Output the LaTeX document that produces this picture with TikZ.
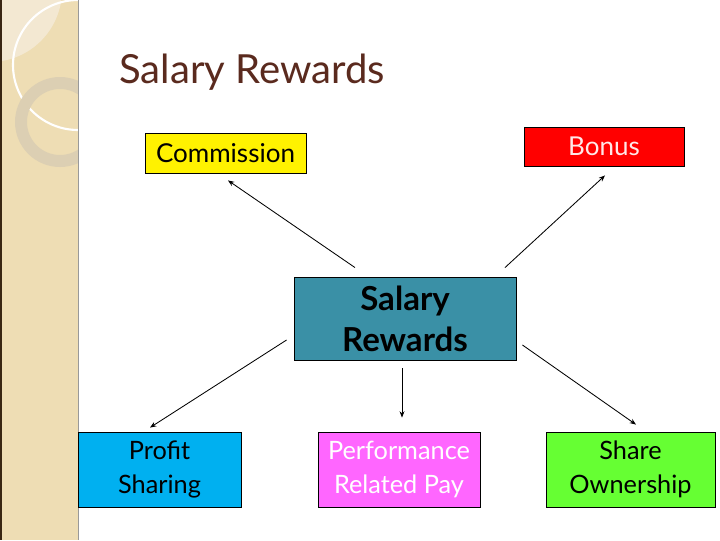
\documentclass[tikz,border=0pt]{standalone}
\usepackage{fontspec}
\setmainfont{Lato}
\usetikzlibrary{arrows.meta}
\definecolor{strip}{HTML}{EEDDB4}
\definecolor{stripl}{HTML}{F3E8D2}
\definecolor{ringc}{HTML}{DCCFB3}
\definecolor{titlec}{HTML}{5A2A1E}
\definecolor{tealc}{HTML}{3A90A6}
\definecolor{cyanc}{HTML}{00B0F0}
\definecolor{magc}{HTML}{FF66FF}
\definecolor{greenc}{HTML}{66FF33}
\definecolor{pinkw}{HTML}{FFE8E8}
\begin{document}
\begin{tikzpicture}[x=0.025cm,y=-0.025cm,
    box/.style={draw=black,line width=0.6pt,align=center,inner sep=0pt},
    small/.style={box,font=\fontsize{18.5}{22}\selectfont},
    low/.style={box,minimum height=1.875cm,font=\fontsize{18}{24}\selectfont},
    arr/.style={-{Stealth[length=4.5pt,width=3.5pt]},line width=0.6pt}]
        \useasboundingbox (0,0) rectangle (720,540);
        \fill[white] (0,0) rectangle (720,540);
        % left strip
        \fill[strip] (0,0) rectangle (78,540);
        \begin{scope}
            \clip (0,0) rectangle (78,540);
            \fill[stripl] (-10,-10) circle (72);
            \draw[white,line width=1.5pt] (78,65) circle (65);
            \fill[ringc,even odd rule] (60,122) circle (45) (60,122) circle (33);
        \end{scope}
        \draw[black!70!brown,line width=1.5pt] (1,0) -- (1,540);
        \draw[black!40,line width=0.5pt] (78,0) -- (78,540);
        % title
        \node[anchor=base west,text=titlec,font=\fontsize{28.5}{34}\selectfont,inner sep=0pt] (title) at (119,83) {Salary Rewards};
        % boxes
        \node[small,fill=yellow,minimum width=4.025cm,minimum height=1cm] (comm) at (225.5,153) {Commission};
        \node[small,fill=red,text=pinkw,minimum width=4cm,minimum height=0.975cm] (bonus) at (604,146.5) {Bonus};
        \node[box,fill=tealc,minimum width=5.55cm,minimum height=2.075cm,font=\fontsize{23.5}{29}\selectfont\bfseries] (sr) at (405,318.5) {Salary\\Rewards};
        \node[low,fill=cyanc,minimum width=4.075cm] (prof) at (159.5,469.5) {Profit\\Sharing};
        \node[low,fill=magc,text=white,minimum width=4.05cm] (perf) at (399,469.5) {Performance\\Related Pay};
        \node[low,fill=greenc,minimum width=4.225cm] (share) at (630.5,469.5) {Share\\Ownership};
        % arrows
        \draw[arr] ([shift={(-50,-9)}]sr.north) -- ([shift={(2.5,7)}]comm.south);
        \draw[arr] ([shift={(100,-9)}]sr.north) -- ([shift={(1,9)}]bonus.south);
        \draw[arr] ([shift={(-7,21.5)}]sr.west) -- ([shift={(-9.5,-4)}]prof.north);
        \draw[arr] ([shift={(-3,8)}]sr.south) -- ([shift={(3,-14)}]perf.north);
        \draw[arr] ([shift={(6,26.5)}]sr.east) -- ([shift={(5.5,-7)}]share.north);
\end{tikzpicture}
\end{document}
